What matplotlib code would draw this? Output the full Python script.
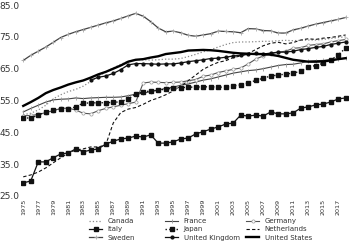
import matplotlib
matplotlib.use("Agg")
import matplotlib.pyplot as plt

# ── Data: female labour force participation, 1975-2018 ─────────────────────────
years = list(range(1975, 2019))

canada = [50.5, 51.0, 52.0, 53.5, 55.5, 56.8, 57.8, 58.5, 59.5, 61.0,
          62.5, 64.0, 65.2, 66.4, 67.3, 67.8, 67.8, 67.7, 67.8, 68.0,
          68.0, 68.2, 68.8, 69.5, 70.3, 71.0, 71.8, 72.6, 73.2, 73.4,
          73.4, 73.5, 73.6, 73.6, 73.8, 73.9, 73.8, 73.9, 74.0, 74.0,
          74.2, 74.5, 74.8, 75.0]
france = [51.4, 52.5, 53.5, 54.5, 55.2, 55.4, 55.5, 55.8, 55.6, 55.8,
          55.9, 56.0, 56.0, 56.1, 56.5, 57.0, 57.3, 57.8, 58.3, 58.8,
          59.2, 59.8, 60.2, 60.8, 61.4, 61.8, 62.4, 63.0, 63.6, 64.0,
          64.4, 64.6, 65.0, 65.5, 66.0, 66.3, 66.4, 66.8, 67.3, 67.5,
          67.6, 67.8, 68.0, 68.3]
germany = [50.2, 50.3, 50.6, 51.2, 51.8, 52.5, 52.6, 52.0, 51.0, 50.8,
           51.8, 52.5, 53.0, 53.5, 54.0, 54.5, 60.5, 60.8, 60.7, 60.6,
           60.7, 60.8, 61.2, 61.6, 62.6, 63.0, 63.8, 64.3, 64.8, 65.2,
           66.5, 68.0, 69.0, 69.6, 70.2, 70.5, 71.4, 71.6, 72.3, 72.6,
           72.8, 73.4, 73.8, 74.2]
italy = [29.1, 29.7, 35.7, 35.7, 37.0, 38.2, 38.5, 39.8, 38.9, 39.4,
         39.8, 41.3, 42.2, 42.9, 43.2, 43.8, 43.5, 44.2, 41.6, 41.6,
         42.0, 42.9, 43.2, 44.5, 45.2, 46.0, 46.7, 47.6, 47.9, 50.4,
         50.1, 50.4, 50.1, 51.4, 50.8, 50.8, 51.1, 52.6, 53.0, 53.6,
         53.9, 54.5, 55.5, 55.8]
japan = [49.5, 49.5, 50.4, 51.4, 52.0, 52.3, 52.3, 53.0, 54.2, 54.2,
         54.3, 54.3, 54.4, 54.6, 55.5, 57.0, 57.7, 58.0, 58.2, 58.6,
         58.8, 59.0, 59.2, 59.2, 59.3, 59.3, 59.2, 59.2, 59.6, 59.9,
         60.5, 61.3, 62.0, 62.7, 63.0, 63.3, 63.6, 64.2, 65.5, 66.0,
         66.7, 67.7, 69.3, 71.5]
netherlands = [31.0, 31.6, 32.5, 33.8, 35.4, 37.0, 38.5, 39.4, 39.8, 40.4,
               40.4, 41.0, 47.9, 51.2, 52.3, 52.8, 53.8, 55.0, 55.8, 56.8,
               58.0, 59.5, 61.2, 63.0, 64.8, 66.0, 67.0, 67.5, 68.5, 69.0,
               69.8, 71.0, 72.2, 73.0, 73.3, 72.8, 73.2, 74.0, 74.4, 74.2,
               74.6, 74.8, 75.2, 75.6]
sweden = [67.6, 69.2, 70.5, 71.8, 73.3, 74.8, 75.8, 76.6, 77.3, 78.0,
          78.7, 79.4, 80.0, 80.8, 81.6, 82.4, 81.5, 79.8, 77.8, 76.6,
          76.8, 76.3, 75.5, 75.2, 75.6, 76.0, 76.8, 76.7, 76.6, 76.3,
          77.6, 77.5, 77.0, 76.9, 76.2, 76.2, 77.2, 77.7, 78.4, 79.0,
          79.5, 80.0, 80.5, 81.1]
uk_years = list(range(1984, 2019))
uk = [61.4, 62.3, 62.7, 63.5, 64.7, 66.2, 66.6, 66.6, 66.5, 66.4,
      66.5, 66.5, 66.8, 67.2, 67.5, 67.8, 68.2, 68.3, 68.6, 69.0,
      69.2, 69.5, 69.8, 69.6, 69.9, 70.2, 70.2, 70.5, 71.0, 71.3,
      71.7, 72.0, 72.6, 73.0, 73.4]
usa = [53.3, 54.5, 55.8, 57.3, 58.3, 59.1, 60.0, 60.7, 61.3, 62.2,
       63.2, 64.0, 65.0, 66.0, 67.2, 67.8, 68.0, 68.5, 68.9, 69.6,
       69.9, 70.2, 70.7, 70.8, 70.9, 70.8, 70.6, 70.3, 70.0, 69.8,
       69.7, 69.6, 69.6, 69.4, 69.0, 68.4, 67.8, 67.5, 67.2, 67.2,
       67.3, 67.6, 68.0, 68.3]

y_ticks = [25, 35, 45, 55, 65, 75, 85]
x_ticks = list(range(1975, 2018, 2))

fig = plt.figure(figsize=(3.5, 2.41), dpi=100)
ax = fig.add_axes([0.06, 0.187, 0.934, 0.792])

l_can, = ax.plot(years, canada, ls=":", color="#8a8a8a", lw=0.9, label="Canada")
l_fra, = ax.plot(years, france, color="#444444", lw=0.8, marker="|", ms=2.2,
                 mec="#999999", mew=0.6, label="France")
l_ger, = ax.plot(years, germany, color="#555555", lw=0.8, marker="o", ms=2.3,
                 mfc="white", mec="#999999", mew=0.5, label="Germany")
l_ita, = ax.plot(years, italy, color="#111111", lw=0.9, marker="s", ms=2.3,
                 label="Italy")
l_jap, = ax.plot(years, japan, ls=":", color="#111111", lw=1.0, marker="s",
                 ms=2.3, label="Japan")
l_ned, = ax.plot(years, netherlands, ls="--", color="#111111", lw=0.8,
                 dashes=(3, 2), label="Netherlands")
l_swe, = ax.plot(years, sweden, color="#444444", lw=0.9, marker="+", ms=2.3,
                 mec="#aaaaaa", mew=0.6, label="Sweden")
l_uk, = ax.plot(uk_years, uk, color="#111111", lw=0.9, marker="o", ms=2.0,
                label="United Kingdom")
l_us, = ax.plot(years, usa, color="#000000", lw=1.7, label="United States")

ax.set_xlim(1974.7, 2018.3)
ax.set_ylim(25, 85)
ax.set_yticks(y_ticks)
ax.set_yticklabels([f"{v:.1f}" for v in y_ticks])
ax.set_xticks(x_ticks)
ax.set_xticklabels([str(x) for x in x_ticks], rotation=90)
ax.tick_params(axis="y", length=0, labelsize=6.5, colors="#333333", pad=1)
ax.tick_params(axis="x", length=0, labelsize=4.6, colors="#333333", pad=2)
for s in ax.spines.values():
    s.set_visible(False)

# legend: three columns placed side by side, filled row by row
columns = [
    ([l_can, l_ita, l_swe], 89),
    ([l_fra, l_jap, l_uk], 165),
    ([l_ger, l_ned, l_us], 246),
]
for handles, x_px in columns:
    leg = fig.legend(handles=handles, loc="upper left",
                     bbox_to_anchor=(x_px / 350, 1 - 218 / 241),
                     fontsize=5, frameon=False, handlelength=1.9,
                     handletextpad=0.8, labelspacing=0.33, borderpad=0,
                     borderaxespad=0)
    for t in leg.get_texts():
        t.set_color("#333333")

fig.savefig("out.png", dpi=100, facecolor="white")
